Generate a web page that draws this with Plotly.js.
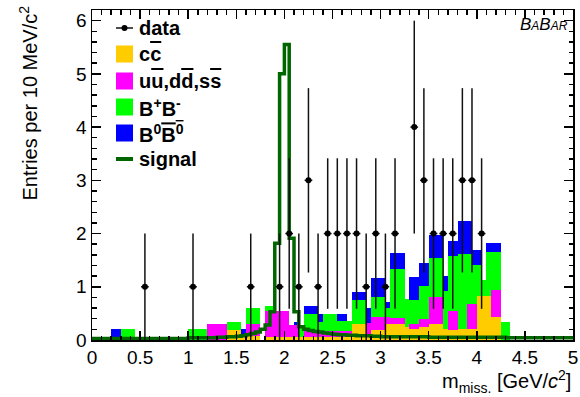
<!DOCTYPE html>
<html>
<head>
<meta charset="utf-8">
<script src="https://cdn.plot.ly/plotly-3.0.1.min.js"></script>
<style>html,body{margin:0;padding:0;background:#fff;}</style>
</head>
<body>
<div id="chart" style="width:580px;height:397px;"></div>
<script>
// ---- data (background bins of 0.05 GeV/c^2 starting at 0) ----
const bkgBinWidth = 0.05;
const ccbar = [
 0,0,0,0,0,0,0,0,0,0, 0,0,0,0,0,0,0,0,0,0,
 0,0,0,0,0,0,0,0,0.18,0.18, 0.18,0.12,0.08,0.08,0.08,0,0.05,0.05,0.06,0.06,
 0.06,0.06,0.06,0.05,0.06,0.06,0.06,0.06,0.06,0.06, 0.06,0.06,0.06,0.06,0.31,0.31,0.31,0.12,0.19,0.19,
 0.19,0.31,0.31,0.31,0.31,0.25,0.2,0.2,0.25,0.25, 0.3,0.3,0.3,0.2,0.19,0.19,0.2,0.2,0.2,0.2,
 0.83,0.83,0.83,0.44,0.44,0,0,0
];
const udsbar = [
 0,0,0,0,0,0,0,0,0,0, 0,0,0,0,0,0,0,0,0,0,
 0,0,0,0,0.3,0.3,0.3,0.3,0,0, 0,0,0.22,0.22,0.22,0,0.49,0.49,0.49,0.49,
 0.49,0.23,0.23,0,0.1,0.1,0.1,0.1,0.1,0.1, 0.1,0.1,0.1,0.1,0,0,0,0.2,0.25,0.25,
 0.25,0.13,0.1,0.1,0.1,0,0.1,0.1,0.15,0.15, 0.5,0.5,0.5,0,0.36,0.36,0,0,0.48,0.48,
 0,0,0,0.5,0.5,0,0,0
];
const bpbm = [
 0,0,0,0,0,0,0.2,0.2,0.2,0, 0,0,0,0,0,0,0,0,0,0,
 0.2,0.2,0.2,0.2,0,0,0,0,0.16,0.16, 0.16,0,0.3,0.3,0.3,0,0.1,0.1,0,0,
 0,0,0,0.17,0.33,0.33,0.33,0.18,0.33,0.33, 0.33,0.2,0.2,0.2,0.45,0.45,0.45,0,0.36,0.36,
 0.36,0.16,0.92,0.92,0.92,0.52,0.46,0.46,0.61,0.61, 0.74,0.74,0.74,0.73,1.02,1.02,1.42,1.42,0.94,0.73,
 0.58,0.3,0.83,0.72,0.72,0.34,0.34,0
];
const b0b0 = [
 0,0,0,0,0.2,0.2,0,0,0,0, 0,0,0,0,0,0,0,0,0,0,
 0,0,0,0,0,0,0,0,0,0, 0,0.08,0,0,0,0,0,0,0,0,
 0,0,0.05,0,0.15,0.15,0.15,0.15,0,0, 0,0.13,0.13,0,0.14,0.14,0.14,0.28,0.36,0.36,
 0.36,0.12,0.3,0.3,0.3,0,0.42,0.42,0.44,0.44, 0.43,0.43,0.43,0.27,0.29,0.29,0.62,0.62,0.62,0.28,
 0.28,0,0.16,0.16,0.16,0,0,0
];
// signal MC, same 0.05 binning, 0 .. 5
const signal = [
 0.03,0.03,0.03,0.03,0.03,0.03,0.03,0.03,0.03,0.03, 0.03,0.03,0.03,0.03,0.03,0.03,0.03,0.03,0.03,0.03,
 0.04,0.04,0.04,0.04,0.04,0.04,0.05,0.05,0.06,0.06, 0.07,0.08,0.1,0.12,0.15,0.2,0.28,0.53,1.82,5.0,
 5.55,1.91,0.53,0.25,0.2,0.18,0.16,0.15,0.13,0.12, 0.11,0.1,0.1,0.09,0.09,0.08,0.08,0.08,0.07,0.07,
 0.06,0.06,0.06,0.06,0.06,0.06,0.06,0.06,0.06,0.06, 0.05,0.05,0.05,0.05,0.05,0.05,0.05,0.05,0.05,0.05,
 0.05,0.05,0.05,0.05,0.05,0.05,0.04,0.04,0.04,0.04, 0.04,0.04,0.04,0.04,0.04,0.04,0.04,0.04,0.04,0.04
];
// data (0.1 GeV/c^2 bins): bin centres and counts
const dataMass = [0.55,1.05,1.65,1.95,2.05,2.15,2.25,2.35,2.45,2.55,2.65,2.75,2.85,2.95,3.05,3.15,3.35,3.45,3.55,3.65,3.75,3.85,3.95,4.05];
const dataCounts = [1,1,1,1,2,1,3,1,2,2,2,2,1,2,1,2,4,3,2,2,2,3,3,2];

const legendLabels = [
  'data',
  'c<span style="text-decoration:overline">c</span>',
  'u<span style="text-decoration:overline">u</span>,d<span style="text-decoration:overline">d</span>,s<span style="text-decoration:overline">s</span>',
  'B<sup>+</sup>B<sup>-</sup>',
  'B<sup>0</sup><span style="text-decoration:overline">B<sup>0</sup></span>',
  'signal'
];

// ---- drawing ----
const FONT = 'Liberation Sans, Arial, Helvetica, sans-serif';
const colors = {cc:'#ffcc00', uds:'#ff00ff', bp:'#00ff00', b0:'#0000ff', sig:'#006600'};
const centres = ccbar.map((_, i) => (i + 0.5) * bkgBinWidth);

function bar(y, color) {
  return {type:'bar', x:centres, y:y, width:bkgBinWidth, marker:{color:color, line:{width:0}},
          showlegend:false, hoverinfo:'skip'};
}
const sigX = signal.map((_, i) => i * bkgBinWidth).concat([signal.length * bkgBinWidth]);
const sigY = signal.concat([signal[signal.length - 1]]);

const traces = [
  bar(ccbar, colors.cc), bar(udsbar, colors.uds), bar(bpbm, colors.bp), bar(b0b0, colors.b0),
  {type:'scatter', mode:'lines', x:sigX, y:sigY, line:{shape:'hv', color:colors.sig, width:3.5},
   showlegend:false, hoverinfo:'skip'},
  {type:'scatter', mode:'markers', x:dataMass, y:dataCounts,
   marker:{color:'#000', size:6},
   error_y:{type:'data', array:dataCounts.map(n => Math.sqrt(n)), color:'#111', thickness:1.5, width:0},
   error_x:{type:'constant', value:0.04, color:'#111', thickness:1.5, width:0},
   showlegend:false, hoverinfo:'skip'}
];

// plot area in pixels: x 92..573, y 10..340
const L = 92, R = 573, T = 10, B = 340;
const px = p => (p - L) / (R - L);
const py = p => (B - p) / (B - T);

const shapes = [], annotations = [];
const rowY = [28, 54, 81, 107, 133, 159];
const swatchColors = [null, colors.cc, colors.uds, colors.bp, colors.b0, null];
rowY.forEach((yy, k) => {
  if (k === 0) {
    shapes.push({type:'line', xref:'paper', yref:'paper', x0:px(116), x1:px(133), y0:py(yy), y1:py(yy), line:{color:'#111', width:1.5}});
    shapes.push({type:'circle', xref:'paper', yref:'paper', x0:px(121.5), x1:px(127.5), y0:py(yy+3), y1:py(yy-3), fillcolor:'#000', line:{width:0}});
  } else if (k === 5) {
    shapes.push({type:'line', xref:'paper', yref:'paper', x0:px(116), x1:px(133), y0:py(yy), y1:py(yy), line:{color:colors.sig, width:4}});
  } else {
    shapes.push({type:'rect', xref:'paper', yref:'paper', x0:px(116), x1:px(133), y0:py(yy+8.5), y1:py(yy-8.5), fillcolor:swatchColors[k], line:{width:0}});
  }
  annotations.push({xref:'paper', yref:'paper', x:px(137), y:py(yy), xanchor:'left', yanchor:'middle',
    text:'<b>' + legendLabels[k] + '</b>', showarrow:false, font:{family:FONT, size:20, color:'#000'}});
});

annotations.push({xref:'paper', yref:'paper', x:px(570), y:py(25), xanchor:'right', yanchor:'middle', showarrow:false,
  text:'<i>B<span style="font-size:12px">A</span>B<span style="font-size:12px">AR</span></i>',
  font:{family:FONT, size:17, color:'#000'}});
annotations.push({xref:'paper', yref:'paper', x:1, y:py(381), xanchor:'right', yanchor:'middle', showarrow:false,
  text:'m<sub>miss.</sub> [GeV/<i>c</i><sup>2</sup>]', font:{family:FONT, size:20, color:'#000'}});
annotations.push({xref:'paper', yref:'paper', x:px(28), y:py(4), xanchor:'center', yanchor:'top', showarrow:false,
  textangle:-90, text:'Entries per 10 MeV/c<sup>2</sup>', font:{family:FONT, size:20, color:'#000'}});

const axisCommon = {
  ticks:'inside', tickwidth:1.5, tickcolor:'#000', showline:true, linewidth:1.5, linecolor:'#000',
  mirror:'allticks', showgrid:false, zeroline:false, tickfont:{family:FONT, size:19, color:'#000'}
};
const layout = {
  width:580, height:397, margin:{l:L, r:580 - R, t:T, b:397 - B, pad:0},
  paper_bgcolor:'#fff', plot_bgcolor:'#fff', barmode:'stack', bargap:0, showlegend:false,
  xaxis:Object.assign({}, axisCommon, {range:[0,5], tick0:0, dtick:0.5, ticklen:9,
        minor:{dtick:0.1, ticks:'inside', ticklen:4.5, tickwidth:1.5, tickcolor:'#000'}}),
  yaxis:Object.assign({}, axisCommon, {range:[0,6.2], tick0:0, dtick:1, ticklen:9,
        minor:{dtick:0.2, ticks:'inside', ticklen:4.5, tickwidth:1.5, tickcolor:'#000'}}),
  shapes:shapes, annotations:annotations
};
Plotly.newPlot('chart', traces, layout, {staticPlot:true, displayModeBar:false});
</script>
</body>
</html>
